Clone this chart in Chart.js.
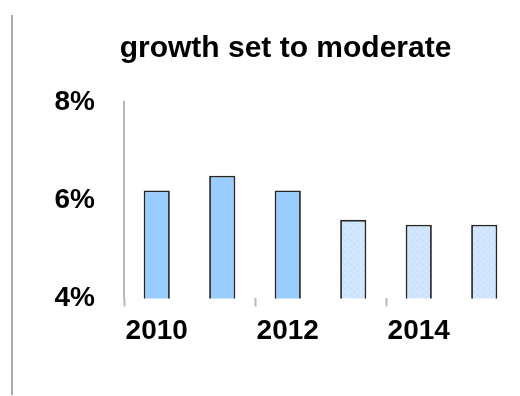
<!DOCTYPE html>
<html>
<head>
<meta charset="utf-8">
<script src="https://cdn.jsdelivr.net/npm/chart.js@4.4.1/dist/chart.umd.min.js"></script>
<style>
  body { margin: 0; background: #fff; }
  #wrap { position: relative; width: 520px; height: 396px; }
  #rule { position: absolute; left: 11px; top: 15px; width: 2px; height: 380px; background: #a8a8a8; }
</style>
</head>
<body>
<div id="wrap">
  <div id="rule"></div>
  <canvas id="growthChart" width="520" height="396"></canvas>
</div>
<script>
const years = ['2010', '2011', '2012', '2013', '2014', '2015'];
const growth = [6.2, 6.5, 6.2, 5.6, 5.5, 5.5];
const isForecast = [false, false, false, true, true, true];
const yTicks = [4, 6, 8];

const fontFamily = 'Arial, "Liberation Sans", sans-serif';

// light dotted fill for the forecast years
function forecastPattern() {
    const tile = document.createElement('canvas');
    tile.width = 6;
    tile.height = 6;
    const t = tile.getContext('2d');
    t.fillStyle = '#cfe5fe';
    t.fillRect(0, 0, 6, 6);
    t.fillStyle = '#e4f0ff';
    t.fillRect(0, 0, 1, 1);
    t.fillRect(3, 3, 1, 1);
    t.fillStyle = '#bcdafc';
    t.fillRect(3, 0, 1, 1);
    return t.createPattern(tile, 'repeat');
}

const ctx = document.getElementById('growthChart').getContext('2d');
const pattern = forecastPattern();

let growthChart = new Chart(ctx, {
    type: 'bar',
    data: {
        labels: years,
        datasets: [{
            label: 'Growth',
            data: growth,
            backgroundColor: isForecast.map(f => f ? pattern : '#99ccff'),
            borderColor: '#262626',
            borderWidth: 1.8,
            borderSkipped: false,
            categoryPercentage: 1,
            barPercentage: 0.4
        }]
    },
    options: {
        responsive: false,
        animation: false,
        layout: { padding: { left: 54, right: 3, top: 0, bottom: 40 } },
        plugins: {
            legend: { display: false },
            tooltip: { enabled: false },
            title: {
                display: true,
                text: 'growth set to moderate',
                color: '#000',
                font: { family: fontFamily, size: 30, weight: 'bold' },
                padding: { top: 31, bottom: 35 }
            }
        },
        scales: {
            x: {
                border: { display: false },
                grid: {
                    offset: true,
                    drawOnChartArea: false,
                    drawTicks: true,
                    tickLength: 8,
                    tickWidth: 2,
                    tickColor: c => c.index % 2 === 0 ? '#b8b8b8' : 'rgba(0,0,0,0)'
                },
                ticks: {
                    autoSkip: false,
                    maxRotation: 0,
                    padding: 8,
                    color: '#000',
                    font: { family: fontFamily, size: 28, weight: 'bold' },
                    callback: (v, i) => i % 2 === 0 ? years[i] : ''
                }
            },
            y: {
                min: yTicks[0],
                max: yTicks[yTicks.length - 1],
                afterFit: scale => { scale.width = 70; },
                afterBuildTicks: scale => { scale.ticks = yTicks.map(v => ({ value: v })); },
                border: { display: true, color: '#b8b8b8', width: 2 },
                grid: { drawOnChartArea: false, drawTicks: false },
                ticks: {
                    padding: 29,
                    color: '#000',
                    font: { family: fontFamily, size: 28, weight: 'bold' },
                    callback: v => v + '%'
                }
            }
        }
    }
});
</script>
</body>
</html>
